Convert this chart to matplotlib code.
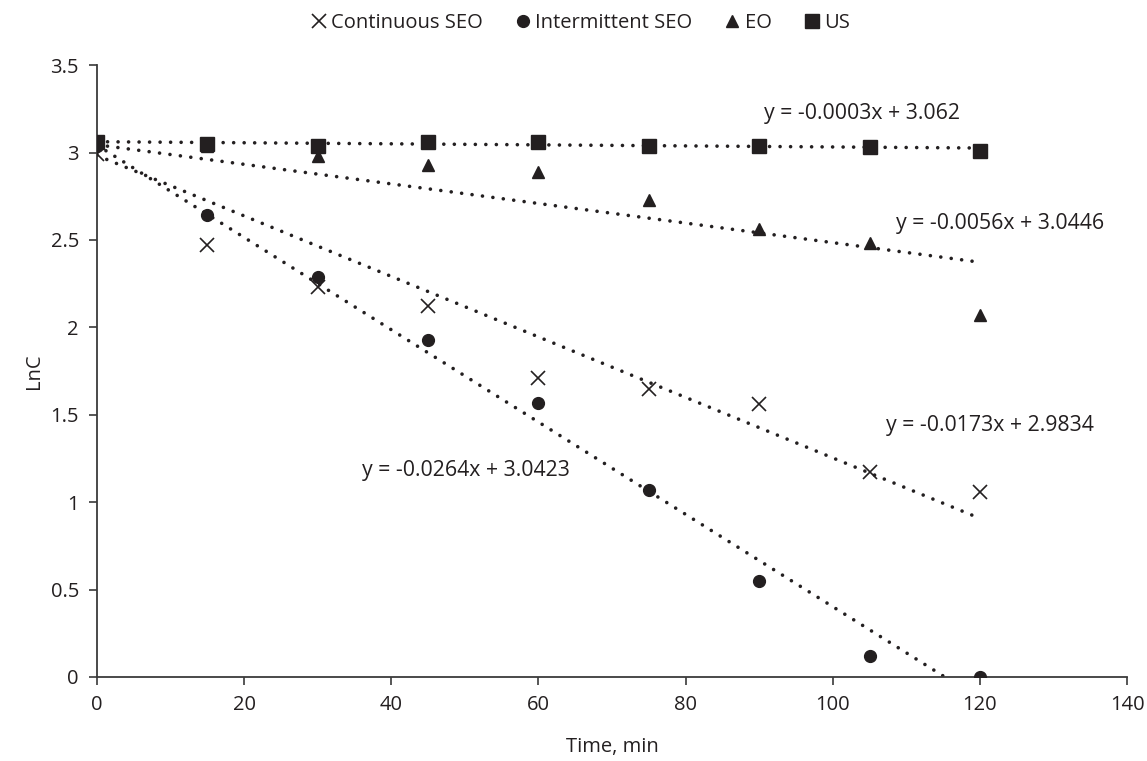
import matplotlib
matplotlib.use("Agg")
import matplotlib.pyplot as plt
import numpy as np

plt.rcParams['font.family'] = ['Open Sans', 'DejaVu Sans']

time_min = [0, 15, 30, 45, 60, 75, 90, 105, 120]
continuous_seo = [2.99, 2.47, 2.23, 2.12, 1.71, 1.65, 1.56, 1.17, 1.06]
intermittent_seo = [3.04, 2.64, 2.29, 1.93, 1.57, 1.07, 0.55, 0.12, 0.00]
eo = [3.06, 3.04, 2.98, 2.93, 2.89, 2.73, 2.56, 2.48, 2.07]
us = [3.06, 3.05, 3.04, 3.06, 3.06, 3.04, 3.04, 3.03, 3.01]

series_names = ["Continuous SEO", "Intermittent SEO", "EO", "US"]
slopes = [-0.0173, -0.0264, -0.0056, -0.0003]
intercepts = [2.9834, 3.0423, 3.0446, 3.062]
eq_labels = ["y = -0.0173x + 2.9834", "y = -0.0264x + 3.0423",
             "y = -0.0056x + 3.0446", "y = -0.0003x + 3.062"]
eq_pos = [(121.4, 1.44), (50.2, 1.18), (122.7, 2.596), (104.0, 3.225)]

C = '#231f20'
fig = plt.figure(figsize=(11.47, 7.61), dpi=100)
ax = fig.add_axes([0.0846, 0.1104, 0.898, 0.804])

data = [continuous_seo, intermittent_seo, eo, us]
markers = ['x', 'o', '^', 's']
msizes = [10, 8.5, 8, 9.5]
handles = []
for name, ys, m, ms in zip(series_names, data, markers, msizes):
    kw = dict(color=C, linestyle='none', marker=m, markersize=ms, label=name, zorder=3)
    if m == 'x':
        kw.update(markeredgewidth=1.2)
    h, = ax.plot(time_min, ys, **kw)
    handles.append(h)

xx = np.array([time_min[0], time_min[-1]], dtype=float)
for s, b in zip(slopes, intercepts):
    ax.plot(xx, s * xx + b, color=C, linewidth=2.6,
            linestyle=(0, (0.01, 2.9)), dash_capstyle='round', zorder=2)

for lab, (px, py) in zip(eq_labels, eq_pos):
    ax.text(px, py, lab, ha='center', va='center', fontsize=15.3, color=C)

ax.set_xlim(0, 140)
ax.set_ylim(0, 3.5)
ax.set_xticks(np.arange(0, 141, 20))
ax.set_yticks(np.arange(0, 3.51, 0.5))
ax.set_yticklabels(['0', '0.5', '1', '1.5', '2', '2.5', '3', '3.5'])
ax.spines['top'].set_visible(False)
ax.spines['right'].set_visible(False)
for sp in ['left', 'bottom']:
    ax.spines[sp].set_color('#3a3a3a')
    ax.spines[sp].set_linewidth(1.3)
ax.tick_params(direction='out', length=6, width=1.2, colors='#3a3a3a',
               labelsize=14.5, labelcolor=C, pad=7)
ax.set_xlabel('Time, min', fontsize=14.5, color=C, labelpad=16)
ax.set_ylabel('LnC', fontsize=14.5, color=C, labelpad=5)

fig.legend(handles=handles, loc='upper center', bbox_to_anchor=(0.505, 1.007),
           ncol=4, frameon=False, fontsize=14.5, handletextpad=0.1,
           columnspacing=1.5, handlelength=1.0, labelcolor=C)

fig.savefig('out.png', dpi=100)
